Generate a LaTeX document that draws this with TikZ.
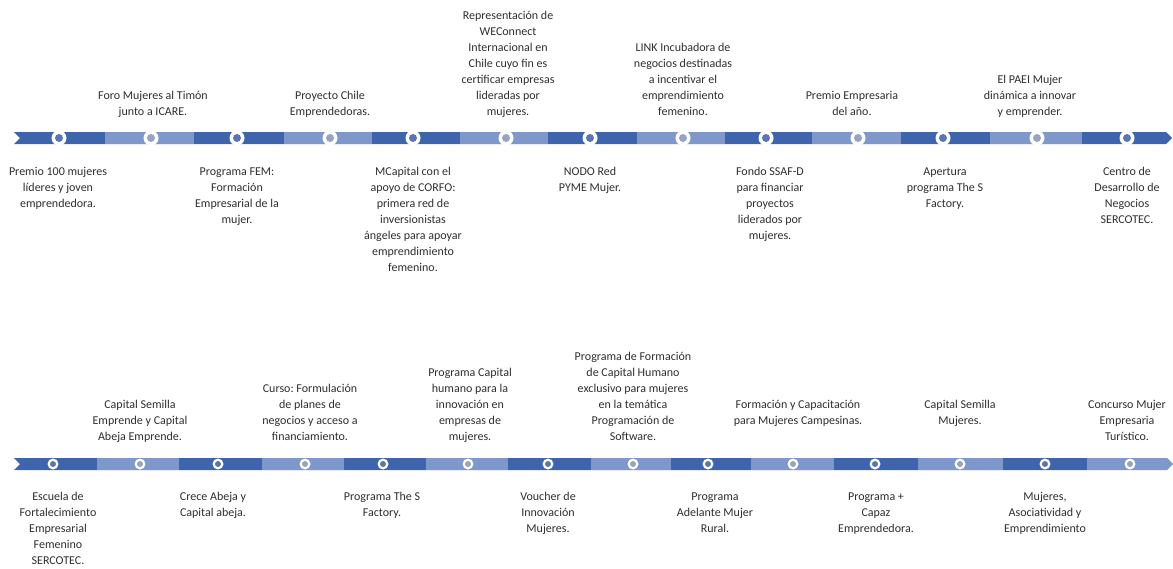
\documentclass[tikz,border=0pt]{standalone}
\usepackage{fontspec}
\setmainfont{Carlito}
\definecolor{dk}{HTML}{3D64AD}
\definecolor{lt}{HTML}{7E98CC}
\definecolor{dkdot}{HTML}{5A76B2}
\definecolor{ltdot}{HTML}{98A3C2}
\definecolor{txt}{HTML}{2E2E2E}
\begin{document}
\frenchspacing
\begin{tikzpicture}[x=1pt,y=-1pt,
  lab/.style={font=\fontsize{12}{16}\selectfont\frenchspacing, align=center, inner sep=0pt, text=txt},
  up/.style={lab, anchor=south},
  dn/.style={lab, anchor=north},
  tgap/.style={circle, fill=white, inner sep=0pt, minimum size=15pt},
  bgap/.style={circle, fill=white, inner sep=0pt, minimum size=11pt},
  tdot/.style={circle, fill=#1, inner sep=0pt, minimum size=8pt},
  bdot/.style={circle, fill=#1, inner sep=0pt, minimum size=6pt}]
\useasboundingbox (0,0) rectangle (1173,568);
% ---------- top bar ----------
\fill[dk] (14,132) -- (1166,132) -- (1172,138) -- (1166,144) -- (14,144) -- (20,138) -- cycle;
\foreach \a/\b in {105/194, 283.5/371.5, 459.5/548, 636.5/724.5, 812/900.5, 990/1082}
  \fill[lt] (\a,132) rectangle (\b,144);
\foreach \x [count=\i] in {59,151,237,330,413,506,590,683,766,858,943,1037,1127}{
  \node[tgap] (tg\i) at (\x,138) {};
  \ifodd\i \node[tdot=dkdot] (t\i) at (\x,138) {};
  \else \node[tdot=ltdot] (t\i) at (\x,138) {};
  \fi
}
% ---------- bottom bar ----------
\fill[dk] (14,458) -- (1087.5,458) -- (1087.5,470) -- (14,470) -- (20,464) -- cycle;
\fill[lt] (1087.5,458) -- (1167,458) -- (1173,464) -- (1167,470) -- (1087.5,470) -- cycle;
\foreach \a/\b in {96.5/179, 261.5/344, 425.5/508, 590.5/670.5, 750.5/834, 917.5/1002.5}
  \fill[lt] (\a,458) rectangle (\b,470);
\foreach \x [count=\i] in {53,140,218,305,383,468,548,633,708,793,875,960,1045,1130}{
  \node[bgap] (bg\i) at (\x,464) {};
  \ifodd\i \node[bdot=dkdot] (b\i) at (\x,464) {};
  \else \node[bdot=ltdot] (b\i) at (\x,464) {};
  \fi
}
% ---------- top labels ----------
\node[dn] (tl1) at (58,164.5) {\strut Premio 100 mujeres\\líderes y joven\\emprendedora.\strut};
\node[up] (tl2) at (153,120) {\strut Foro Mujeres al Timón\\junto a ICARE.\strut};
\node[dn] (tl3) at (237,164.5) {\strut Programa FEM:\\Formación\\Empresarial de la\\mujer.\strut};
\node[up] (tl4) at (330,120) {\strut Proyecto Chile\\Emprendedoras.\strut};
\node[dn] (tl5) at (413,164.5) {\strut MCapital con el\\apoyo de CORFO:\\primera red de\\inversionistas\\ángeles para apoyar\\emprendimiento\\femenino.\strut};
\node[up] (tl6) at (508,120) {\strut Representación de\\WEConnect\\Internacional en\\Chile cuyo fin es\\certificar empresas\\lideradas por\\mujeres.\strut};
\node[dn] (tl7) at (590,164.5) {\strut NODO Red\\PYME Mujer.\strut};
\node[up] (tl8) at (683,120) {\strut LINK Incubadora de\\negocios destinadas\\a incentivar el\\emprendimiento\\femenino.\strut};
\node[dn] (tl9) at (770,164.5) {\strut Fondo SSAF-D\\para financiar\\proyectos\\liderados por\\mujeres.\strut};
\node[up] (tl10) at (852,120) {\strut Premio Empresaria\\del año.\strut};
\node[dn] (tl11) at (945,164.5) {\strut Apertura\\programa The S\\Factory.\strut};
\node[up] (tl12) at (1030,120) {\strut El PAEI Mujer\\dinámica a innovar\\y emprender.\strut};
\node[dn] (tl13) at (1127,164.5) {\strut Centro de\\Desarrollo de\\Negocios\\SERCOTEC.\strut};
% ---------- bottom labels ----------
\node[dn] (bl1) at (58,489.5) {\strut Escuela de\\Fortalecimiento\\Empresarial\\Femenino\\SERCOTEC.\strut};
\node[up] (bl2) at (140,445) {\strut Capital Semilla\\Emprende y Capital\\Abeja Emprende.\strut};
\node[dn] (bl3) at (213,489.5) {\strut Crece Abeja y\\Capital abeja.\strut};
\node[up] (bl4) at (310,445) {\strut Curso: Formulación\\de planes de\\negocios y acceso a\\financiamiento.\strut};
\node[dn] (bl5) at (382,489.5) {\strut Programa The S\\Factory.\strut};
\node[up] (bl6) at (470,445) {\strut Programa Capital\\humano para la\\innovación en\\empresas de\\mujeres.\strut};
\node[dn] (bl7) at (548,489.5) {\strut Voucher de\\Innovación\\Mujeres.\strut};
\node[up] (bl8) at (633,445) {\strut Programa de Formación\\de Capital Humano\\exclusivo para mujeres\\en la temática\\Programación de\\Software.\strut};
\node[dn] (bl9) at (715,489.5) {\strut Programa\\Adelante Mujer\\Rural.\strut};
\node[up] (bl10) at (798,429) {\strut Formación y Capacitación\\para Mujeres Campesinas.\strut};
\node[dn] (bl11) at (876,489.5) {\strut Programa +\\Capaz\\Emprendedora.\strut};
\node[up] (bl12) at (960,429) {\strut Capital Semilla\\Mujeres.\strut};
\node[dn] (bl13) at (1045,489.5) {\strut Mujeres,\\Asociatividad y\\Emprendimiento\strut};
\node[up] (bl14) at (1127,445) {\strut Concurso Mujer\\Empresaria\\Turístico.\strut};
\end{tikzpicture}
\end{document}
